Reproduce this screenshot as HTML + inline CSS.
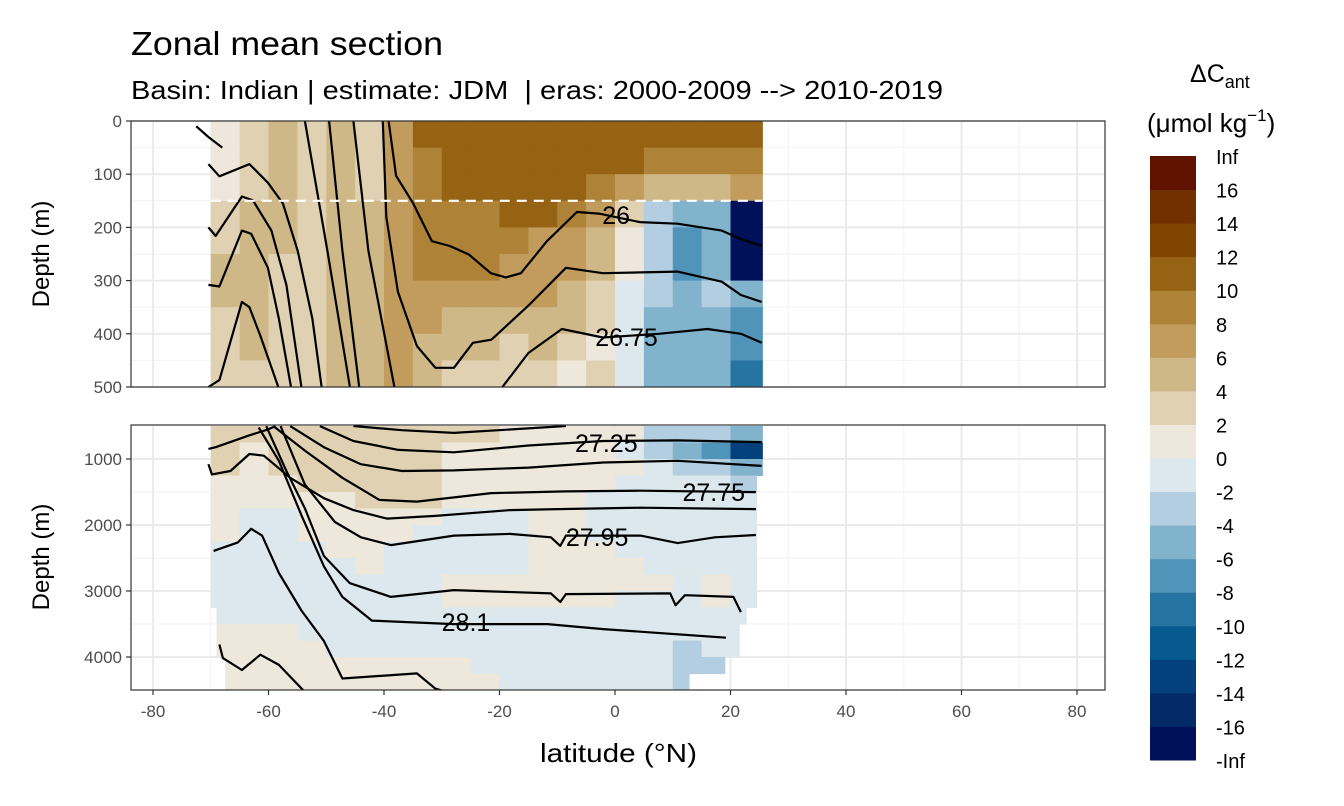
<!DOCTYPE html>
<html><head><meta charset="utf-8"><title>Zonal mean section</title>
<style>
html,body{margin:0;padding:0;background:#fff;}
svg{display:block;font-family:"Liberation Sans",Arial,sans-serif;}
</style></head>
<body>
<svg id="chart" width="1344" height="806" viewBox="0 0 1344 806" xmlns="http://www.w3.org/2000/svg">
  <rect x="0" y="0" width="1344" height="806" fill="#fff"/>
  <text x="131" y="55" font-size="33" textLength="312" lengthAdjust="spacingAndGlyphs" fill="#000">Zonal mean section</text>
  <text x="131" y="99" font-size="26" textLength="812" lengthAdjust="spacingAndGlyphs" fill="#000">Basin: Indian | estimate: JDM&#160; | eras: 2000-2009 --&gt; 2010-2019</text>
  <g id="gridTop"></g>
  <g id="gridBot"></g>
  <g id="cellsTop"></g>
  <g id="cellsBot"></g>
  <g id="linesTop"></g>
  <g id="linesBot"></g>
  <g id="labels"></g>
  <g id="axes"></g>
  <g id="legend"></g>
  <text x="540" y="762" font-size="26" textLength="157" lengthAdjust="spacingAndGlyphs" fill="#000">latitude (°N)</text>
  <text transform="translate(49,254) rotate(-90)" font-size="24" text-anchor="middle" fill="#000">Depth (m)</text>
  <text transform="translate(49,557) rotate(-90)" font-size="24" text-anchor="middle" fill="#000">Depth (m)</text>
  <text x="1190" y="82" font-size="25" fill="#000">ΔC<tspan font-size="18" dy="6">ant</tspan></text>
  <text x="1147" y="132" font-size="26" fill="#000">(μmol kg<tspan font-size="17" dy="-11">−1</tspan><tspan dy="11">)</tspan></text>
</svg>
<script>
// ---- data ----
const latEdges = [-70,-65,-60,-55,-50,-45,-40,-35,-30,-25,-20,-15,-10,-5,0,5,10,15,20,25.5];
const topDepthEdges = [0,50,100,150,200,250,300,350,400,450,500];
const topValues = [
 [1,3,5,3,5,3,7,11,11,11,11,11,11,11,11,11,11,11,11],
 [1,3,5,3,5,3,7,9,11,11,11,11,11,11,11,9,9,9,9],
 [1,3,5,3,5,3,7,9,11,11,11,11,11,9,7,5,5,5,7],
 [3,5,5,3,5,5,7,9,9,9,11,11,9,7,3,-3,-5,-5,-17],
 [3,5,5,3,5,5,7,9,9,9,9,7,7,5,1,-3,-7,-5,-17],
 [5,5,3,3,5,5,7,9,9,9,7,7,7,5,1,-3,-7,-5,-17],
 [5,5,3,3,5,5,7,7,7,7,7,7,5,3,-1,-3,-5,-3,-5],
 [3,5,3,3,5,5,7,7,5,5,5,5,5,3,-1,-5,-5,-5,-7],
 [3,5,3,3,5,5,7,5,5,5,3,5,3,1,-1,-5,-5,-5,-7],
 [3,3,3,3,5,5,7,5,3,3,3,3,1,3,-1,-5,-5,-5,-9]
];
const botDepthEdges = [500,750,1000,1250,1500,1750,2000,2250,2500,2750,3000,3250,3500,3750,4000,4250,4500];
const botValues = [
 [3,3,3,3,3,3,3,3,3,3,1,1,1,1,1,-3,-3,-3,-5],
 [3,1,3,3,3,3,3,3,1,1,1,1,1,1,-1,-3,-5,-7,-13],
 [3,1,3,3,3,3,3,3,1,1,1,1,1,1,1,-1,-3,-3,-5],
 [1,1,1,3,3,3,3,3,1,1,1,1,1,1,-1,-1,-1,-1,-3],
 [1,1,1,1,1,3,3,3,1,1,1,1,1,-1,-1,-1,-1,-1,-1],
 [1,-1,-1,1,1,1,1,1,-1,-1,-1,1,1,-1,-1,-1,-1,-1,-1],
 [1,-1,-1,1,1,1,1,-1,-1,-1,-1,1,1,-1,-1,-1,-1,-1,-1],
 [-1,-1,-1,-1,1,1,-1,-1,-1,-1,-1,1,1,1,-1,-1,-1,-1,-1],
 [-1,-1,-1,-1,-1,1,-1,-1,-1,-1,-1,1,1,1,1,-1,-1,-1,-1],
 [-1,-1,-1,-1,-1,-1,-1,-1,1,1,1,1,1,1,1,1,-1,1,-1],
 [-1,-1,-1,-1,-1,-1,-1,-1,1,1,1,1,1,1,-1,-1,-1,1,-1],
 [-1,-1,-1,-1,-1,-1,-1,-1,-1,-1,-1,-1,-1,-1,-1,-1,-1,-1,-1],
 [1,1,1,-1,-1,-1,-1,-1,-1,-1,-1,-1,-1,-1,-1,-1,-1,-1,-1],
 [1,1,1,1,-1,-1,-1,-1,-1,-1,-1,-1,-1,-1,-1,-1,-3,-1,-1],
 [1,1,1,1,1,1,1,1,1,-1,-1,-1,-1,-1,-1,-1,-3,-3,-3],
 [1,1,1,1,1,1,1,1,1,1,-1,-1,-1,-1,-1,-1,-3,-3,-3]
];
const botRowMaxLat = [25.5,25.5,25.5,24.5,24.5,24.5,24.5,24.5,24.5,24.5,24.5,22.7,21.5,21.5,19,12.8];
const botRowMinLat = [-70,-70,-70,-70,-70,-70,-70,-70,-70,-70,-70,-69,-69,-69,-67.5,-67.5];

const contoursTop = [
 [[-39.2,0],[-37.9,103],[-35,154],[-31.7,226],[-28.6,235],[-25.3,251],[-21.5,286],[-18.9,294],[-16.3,286],[-11.8,226],[-6.6,171],[-2.8,174],[4.3,190],[10.8,193],[18.5,206],[21.8,222],[25.4,235]],
 [[-40.2,0],[-39.6,180],[-37.6,321],[-34.3,423],[-31.1,464],[-27.9,464],[-24.6,417],[-21.4,411],[-15,347],[-8.5,276],[-2.1,286],[10.8,283],[18.5,302],[21.8,327],[25.4,340]],
 [[-19.5,500],[-15,436],[-9.2,391],[-2.1,407],[7.6,400],[16,391],[21.8,400],[25.4,417]],
 [[-53.7,0],[-49.8,244],[-45.9,500]],
 [[-49.5,0],[-47.2,244],[-44.3,500]],
 [[-45.3,0],[-42.7,244],[-38.2,500]],
 [[-72.5,10],[-70.4,30],[-68,50]],
 [[-70.4,81],[-68.5,104],[-63.3,81],[-60.1,116],[-57.5,155],[-54.95,244],[-52.4,372],[-50.8,500]],
 [[-70.4,200],[-69.15,216],[-64.6,142],[-62.7,149],[-59.5,206],[-56.9,308],[-54.3,500]],
 [[-70.4,308],[-68.5,311],[-64.6,206],[-63,212],[-60.1,276],[-58.2,372],[-56.1,500]],
 [[-70.4,500],[-68.5,487],[-64.6,340],[-63.3,350],[-61.4,404],[-58.3,500]]
];
const contoursBot = [
 [[-70.4,847],[-69.15,821],[-63.3,641],[-60.1,553],[-58.8,502]],
 [[-45.3,500],[-36.9,564],[-27.9,605],[-18.2,553],[-8.5,500]],
 [[-51.1,502],[-45.3,728],[-37.5,862],[-27.9,899],[-14.96,795],[-2.05,728],[10.85,718],[25.4,744]],
 [[-56.25,502],[-50.4,821],[-44.0,1079],[-36.9,1182],[-27.9,1172],[-14.96,1130],[-2.05,1053],[10.85,1027],[25.4,1105]],
 [[-59.15,502],[-53.7,873],[-47.2,1285],[-40.8,1620],[-34.3,1646],[-21.4,1517],[-8.5,1491],[4.4,1481],[24.4,1501]],
 [[-70.4,1079],[-69.8,1233],[-66.6,1182],[-63.3,924],[-60.8,950],[-56.25,1285],[-50.4,1594],[-45.3,1775],[-39.5,1903],[-31.1,1862],[-18.2,1775],[-9.8,1759],[4.4,1738],[24.4,1759]],
 [[-57.9,502],[-53.7,1388],[-48.5,1955],[-44.0,2187],[-38.8,2305],[-27.9,2161],[-18.2,2135],[-11.1,2187],[-9.47,2316],[-8.5,2161],[4.4,2161],[10.85,2274],[17.3,2187],[24.4,2151]],
 [[-60.4,502],[-56.9,1182],[-53.7,1749],[-50.4,2470],[-45.9,2882],[-38.8,3089],[-27.9,2986],[-11.1,3037],[-9.47,3166],[-8.5,3047],[9.56,3037],[10.5,3217],[12.1,3063],[20.5,3089],[21.8,3320]],
 [[-61.7,522],[-58.2,1027],[-54.3,1852],[-50.4,2625],[-47.2,3089],[-42.1,3449],[-27.9,3501],[-11.7,3501],[-2.05,3578],[19.2,3707]],
 [[-69.5,2393],[-65.3,2264],[-63.0,2058],[-61.1,2161],[-58.2,2728],[-54.3,3295],[-50.4,3758],[-47.2,4325],[-34.3,4248],[-31.1,4480],[-27.9,4557]],
 [[-68.5,3810],[-67.9,4016],[-64.6,4197],[-61.4,3965],[-58.2,4119],[-53.7,4531],[-53.0,4583]]
];
const labelTextsTop = ["26","26.75"];
const labelPosTop = [[0.2,194],[2,423]];
const labelTextsBot = ["27.25","27.75","27.95","28.1"];
const labelPosBot = [[-1.5,894],[17.1,1636],[-3.1,2318],[-25.8,3606]];

const xTicks = [-80,-60,-40,-20,0,20,40,60,80];
const xMinor = [-70,-50,-30,-10,10,30,50,70];
const yTicksTop = [0,100,200,300,400,500];
const yMinorTop = [50,150,250,350,450];
const yTicksBot = [1000,2000,3000,4000];
const yMinorBot = [1500,2500,3500,4500];
const legendLabels = ["Inf","16","14","12","10","8","6","4","2","0","-2","-4","-6","-8","-10","-12","-14","-16","-Inf"];
const binColors = ["#011159","#022b68","#03407c","#075a8e","#2574a1","#5094b9","#82b3cc","#b2cee0","#dce8ee","#ede7dc","#e0d1b2","#cfb888","#c19c5c","#ae8237","#956313","#804600","#723000","#5f1300"];

// ---- scales ----
const NS = "http://www.w3.org/2000/svg";
const PX0 = 131, PX1 = 1105, TY0 = 121, TY1 = 387, BY0 = 425, BY1 = 690;
const xS = lat => 615 + lat * 5.775;
const yTop = d => 121 + d * 0.532;
const yBot = d => 426 + (d - 500) * 0.066;
const binIndex = v => Math.max(0, Math.min(17, Math.floor(v / 2) + 9));
function mk(tag, attrs, parent) {
  const e = document.createElementNS(NS, tag);
  for (const k in attrs) e.setAttribute(k, attrs[k]);
  parent.appendChild(e);
  return e;
}
const $ = id => document.getElementById(id);

// ---- grid ----
function grid(g, y0, y1, ys, yMin, yS) {
  xMinor.forEach(v => { const l = mk('line', {x1: xS(v), x2: xS(v), y1: y0, y2: y1, stroke: '#f2f2f2', 'stroke-width': 1}, g);
    
     });
  yMin.forEach(v => { const l = mk('line', {x1: PX0, x2: PX1, y1: yS(v), y2: yS(v), stroke: '#f2f2f2', 'stroke-width': 1}, g);
    
     });
  xTicks.forEach(v => { const l = mk('line', {x1: xS(v), x2: xS(v), y1: y0, y2: y1, stroke: '#ebebeb', 'stroke-width': 2}, g);
    
     });
  ys.forEach(v => { const l = mk('line', {x1: PX0, x2: PX1, y1: yS(v), y2: yS(v), stroke: '#ebebeb', 'stroke-width': 2}, g);
    
     });
}
grid($('gridTop'), TY0, TY1, yTicksTop, yMinorTop, yTop);
grid($('gridBot'), BY0, BY1, yTicksBot, yMinorBot, yBot);

// ---- cells ----
topValues.forEach((row, r) => row.forEach((v, c) => {
  const x0 = xS(latEdges[c]), x1 = xS(latEdges[c + 1]);
  const y0 = yTop(topDepthEdges[r]), y1 = yTop(topDepthEdges[r + 1]);
  const e = mk('rect', {x: x0, y: y0, width: x1 - x0 + 0.6, height: y1 - y0 + 0.6, fill: binColors[binIndex(v)]}, $('cellsTop'));
  
  
}));
botValues.forEach((row, r) => row.forEach((v, c) => {
  const lo = Math.max(latEdges[c], botRowMinLat[r]);
  const hi = Math.min(latEdges[c + 1], botRowMaxLat[r]);
  if (hi <= lo) return;
  const x0 = xS(lo), x1 = xS(hi);
  const y0 = yBot(botDepthEdges[r]), y1 = yBot(botDepthEdges[r + 1]);
  const e = mk('rect', {x: x0, y: y0, width: x1 - x0 + 0.6, height: y1 - y0 + 0.6, fill: binColors[binIndex(v)]}, $('cellsBot'));
  
  
}));

// ---- clip + contours ----
const defs = mk('defs', {}, $('chart'));
const c1 = mk('clipPath', {id: 'clipTop'}, defs); mk('rect', {x: PX0, y: TY0, width: PX1 - PX0, height: TY1 - TY0}, c1);
const c2 = mk('clipPath', {id: 'clipBot'}, defs); mk('rect', {x: PX0, y: BY0, width: PX1 - PX0, height: BY1 - BY0}, c2);
$('cellsTop').setAttribute('clip-path', 'url(#clipTop)');
$('linesTop').setAttribute('clip-path', 'url(#clipTop)');
$('cellsBot').setAttribute('clip-path', 'url(#clipBot)');
$('linesBot').setAttribute('clip-path', 'url(#clipBot)');
function drawLines(arr, g, yS) {
  arr.forEach(pts => {
    const d = pts.map((p, i) => (i ? 'L' : 'M') + xS(p[0]).toFixed(1) + ',' + yS(p[1]).toFixed(1)).join(' ');
    const e = mk('path', {d: d, fill: 'none', stroke: '#000', 'stroke-width': 2.2, 'stroke-linejoin': 'round'}, g);
    
    
  });
}
drawLines(contoursTop, $('linesTop'), yTop);
drawLines(contoursBot, $('linesBot'), yBot);

// dashed reference line
const dash = mk('line', {x1: xS(-70), x2: xS(25.5), y1: yTop(150), y2: yTop(150), stroke: '#fff', 'stroke-width': 2.2, 'stroke-dasharray': '10,7'}, $('linesTop'));



// ---- contour labels ----
labelTextsTop.forEach((t, i) => {
  const e = mk('text', {x: xS(labelPosTop[i][0]), y: yTop(labelPosTop[i][1]), 'font-size': 25, 'text-anchor': 'middle', fill: '#000'}, $('labels'));
  e.textContent = t;
  
  
});
labelTextsBot.forEach((t, i) => {
  const e = mk('text', {x: xS(labelPosBot[i][0]), y: yBot(labelPosBot[i][1]), 'font-size': 25, 'text-anchor': 'middle', fill: '#000'}, $('labels'));
  e.textContent = t;
  
  
});
const rl = mk('text', {x: 0, y: 0, 'font-size': 25, 'text-anchor': 'middle', fill: '#000', transform: 'translate(' + xS(-67.5) + ',' + yTop(30) + ') rotate(35)', 'clip-path': 'url(#clipTop)'}, $('labels'));
rl.textContent = '27.25';



// ---- axes ----
const ax = $('axes');
[[TY0, TY1], [BY0, BY1]].forEach(p => {
  const e = mk('rect', {x: PX0, y: p[0], width: PX1 - PX0, height: p[1] - p[0], fill: 'none', stroke: '#333', 'stroke-width': 1.2}, ax);
  
  
});
yTicksTop.forEach(v => {
  mk('line', {x1: PX0 - 5, x2: PX0, y1: yTop(v), y2: yTop(v), stroke: '#333', 'stroke-width': 1.2}, ax);
  const t = mk('text', {x: PX0 - 9, y: yTop(v) + 6, 'font-size': 17, 'text-anchor': 'end', fill: '#4d4d4d'}, ax);
  t.textContent = v;
  
  
});
yTicksBot.forEach(v => {
  mk('line', {x1: PX0 - 5, x2: PX0, y1: yBot(v), y2: yBot(v), stroke: '#333', 'stroke-width': 1.2}, ax);
  const t = mk('text', {x: PX0 - 9, y: yBot(v) + 6, 'font-size': 17, 'text-anchor': 'end', fill: '#4d4d4d'}, ax);
  t.textContent = v;
  
  
});
xTicks.forEach(v => {
  mk('line', {x1: xS(v), x2: xS(v), y1: BY1, y2: BY1 + 5, stroke: '#333', 'stroke-width': 1.2}, ax);
  const t = mk('text', {x: xS(v), y: BY1 + 27, 'font-size': 17, 'text-anchor': 'middle', fill: '#4d4d4d'}, ax);
  t.textContent = v;
  
  
});

// ---- legend ----
const lg = $('legend');
const LB0 = 156, LB1 = 760, LBX = 1150, LBW = 46;
const bh = (LB1 - LB0) / binColors.length;
binColors.forEach((col, i) => {
  const e = mk('rect', {x: LBX, y: LB1 - (i + 1) * bh, width: LBW, height: bh + 0.5, fill: col}, lg);
  
  
});
legendLabels.forEach((t, i) => {
  const e = mk('text', {x: 1216, y: LB0 + i * bh + 8, 'font-size': 20, fill: '#000'}, lg);
  e.textContent = t;
  
  
});
</script>
</body></html>
